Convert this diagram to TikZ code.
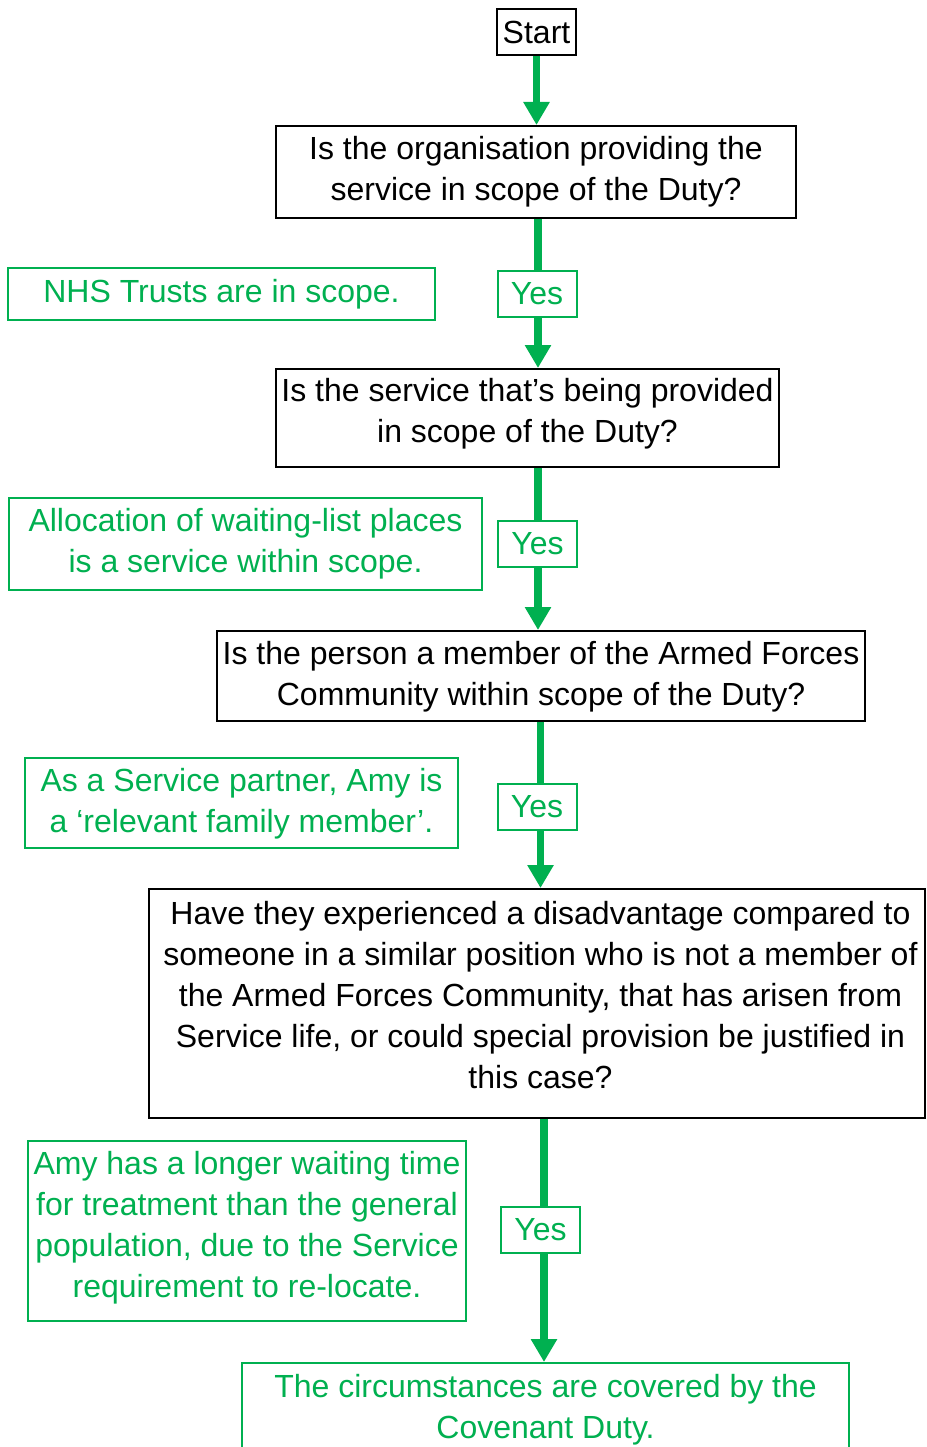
\documentclass[tikz,border=0pt]{standalone}
\usepackage{fontspec}
\setmainfont{Liberation Sans}
\usetikzlibrary{arrows.meta}
\definecolor{grn}{RGB}{0,176,80}
\begin{document}
\begin{tikzpicture}[x=1pt,y=-1pt,
  every node/.style={font=\fontsize{32}{41}\selectfont},
  bframe/.style={draw=black,line width=2pt,inner sep=0pt,fill=white},
  gframe/.style={draw=grn,line width=2pt,inner sep=0pt,fill=white,text=grn},
  btxt/.style={align=center,text=black,inner sep=0pt},
  gtxt/.style={align=center,text=grn,inner sep=0pt},
  yesbox/.style={draw=grn,line width=2pt,fill=white,text=grn,minimum width=79pt,minimum height=46pt,inner sep=0pt},
  flow/.style={draw=grn,line width=7.5pt},
  flowarr/.style={flow,-{Triangle[width=25pt,length=23pt]}}]
\useasboundingbox (0,0) rectangle (926,1447);
\clip (0,0) rectangle (926,1447);
\fill[white] (0,0) rectangle (926,1447);

% main question boxes
\node[bframe,minimum width=79pt,minimum height=46pt] (start) at (536.5,32) {Start};
\node[bframe,minimum width=520pt,minimum height=92pt] (q1) at (536,172) {};
\node[btxt] (q1t) at (536,171.5) {Is the organisation providing the\\service in scope of the Duty?};
\node[bframe,minimum width=503pt,minimum height=98pt] (q2) at (527.5,418) {};
\node[btxt] (q2t) at (527.5,414) {Is the service that’s being provided\\in scope of the Duty?};
\node[bframe,minimum width=648pt,minimum height=90pt] (q3) at (541,676) {};
\node[btxt] (q3t) at (541,676.5) {Is the person a member of the Armed Forces\\Community within scope of the Duty?};
\node[bframe,minimum width=776pt,minimum height=229pt] (q4) at (537,1003.5) {};
\node[btxt] (q4t) at (540.5,995) {Have they experienced a disadvantage compared to\\someone in a similar position who is not a member of\\the Armed Forces Community, that has arisen from\\Service life, or could special provision be justified in\\this case?};
\node[gframe,minimum width=607pt,minimum height=117pt] (fin) at (545.5,1421.5) {};
\node[gtxt] (fint) at (545.5,1409.5) {The circumstances are covered by the\\Covenant Duty.};

% green notes
\node[gframe,minimum width=427pt,minimum height=52pt] (n1) at (221.5,294) {NHS Trusts are in scope.};
\node[gframe,minimum width=473pt,minimum height=92pt] (n2) at (245.5,544) {};
\node[gtxt] (n2t) at (245.5,543.5) {Allocation of waiting-list places\\is a service within scope.};
\node[gframe,minimum width=433pt,minimum height=90pt] (n3) at (241.5,803) {};
\node[gtxt] (n3t) at (241.5,804) {As a Service partner, Amy is\\a ‘relevant family member’.};
\node[gframe,minimum width=438pt,minimum height=180pt] (n4) at (247,1231) {};
\node[gtxt] (n4t) at (247,1228) {Amy has a longer waiting time\\for treatment than the general\\population, due to the Service\\requirement to re-locate.};

% arrow lines
\coordinate (a1) at (538,0);
\coordinate (a2) at (538,0);
\coordinate (a3) at (540.5,0);
\coordinate (a4) at (544,0);

% connectors
\draw[flowarr] (start.south) -- (start.south |- q1.north);
\node[yesbox] (y1) at (537,294) {Yes};
\draw[flow] (a1 |- q1.south) -- (a1 |- y1.north);
\draw[flowarr] (a1 |- y1.south) -- (a1 |- q2.north);
\node[yesbox] (y2) at (537.5,544) {Yes};
\draw[flow] (a2 |- q2.south) -- (a2 |- y2.north);
\draw[flowarr] (a2 |- y2.south) -- (a2 |- q3.north);
\node[yesbox] (y3) at (537,807) {Yes};
\draw[flow] (a3 |- q3.south) -- (a3 |- y3.north);
\draw[flowarr] (a3 |- y3.south) -- (a3 |- q4.north);
\node[yesbox] (y4) at (540.5,1230) {Yes};
\draw[flow] (a4 |- q4.south) -- (a4 |- y4.north);
\draw[flowarr] (a4 |- y4.south) -- (a4 |- fin.north);
\end{tikzpicture}
\end{document}
